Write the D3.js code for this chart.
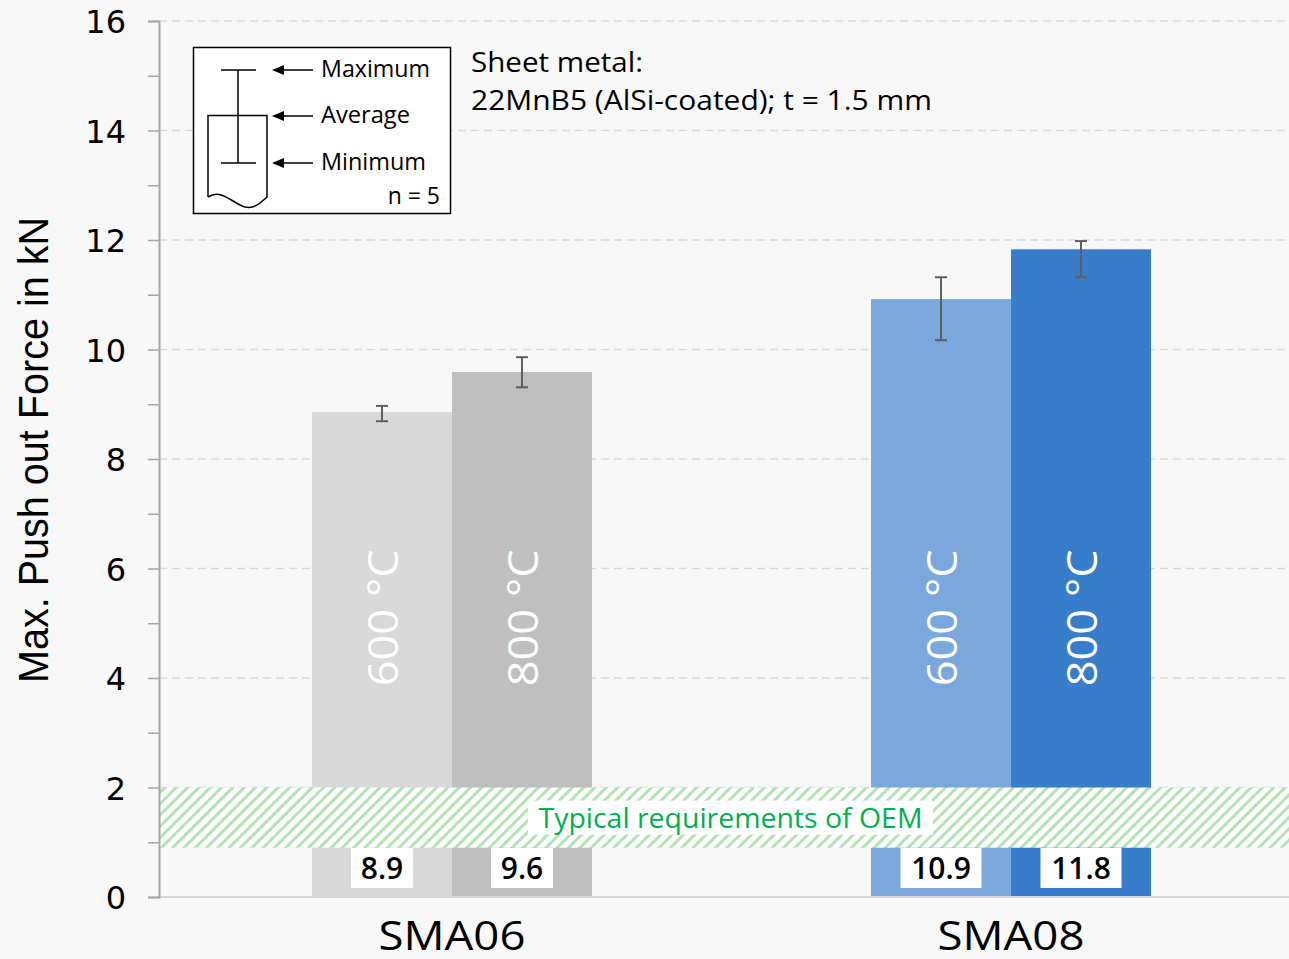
<!DOCTYPE html>
<html>
<head>
<meta charset="UTF-8">
<title>Push out force</title>
<script src="https://d3js.org/d3.v7.min.js"></script>
<style>
  body { margin: 0; background: #f8f8f8; }
  svg { display: block; }
  text { font-family: "DejaVu Sans", sans-serif; }
</style>
</head>
<body>
<svg id="chart"></svg>
<script>
// values
let categories = ["SMA06", "SMA08"];
let temps = ["600 °C", "800 °C"];
let avg600 = [8.86, 10.92];
let avg800 = [9.59, 11.83];
let min600 = [8.69, 10.17];
let max600 = [8.97, 11.32];
let min800 = [9.31, 11.32];
let max800 = [9.86, 11.98];
let label600 = ["8.9", "10.9"];
let label800 = ["9.6", "11.8"];
let yTicks = [0, 2, 4, 6, 8, 10, 12, 14, 16];
let oemBand = [0.9, 2];

let width = 1289, height = 959;
let plotLeft = 159, plotRight = 1289, plotTop = 21, plotBottom = 897;

let svg = d3.select("#chart").attr("width", width).attr("height", height);

// flatten into bars
let bars = [];
categories.forEach((c, i) => {
  bars.push({cat: c, temp: temps[0], avg: avg600[i], min: min600[i], max: max600[i], label: label600[i], idx: i});
  bars.push({cat: c, temp: temps[1], avg: avg800[i], min: min800[i], max: max800[i], label: label800[i], idx: i});
});
let colors = {
  "SMA06": {"600 °C": "#d9d9d9", "800 °C": "#bfbfbf"},
  "SMA08": {"600 °C": "#7aa8dc", "800 °C": "#377dc9"}
};

let y = d3.scaleLinear().domain([0, 16]).range([plotBottom, plotTop]);
let x = d3.scaleBand().domain(categories).range([172.5, 1290.5]).paddingInner(0).paddingOuter(0);
let xs = d3.scaleBand().domain(temps).range([-140, 140]);

// background
svg.append("rect").attr("width", width).attr("height", height).attr("fill", "#f8f8f8");

// hatch pattern
let defs = svg.append("defs");
let pat = defs.append("pattern").attr("id", "hatch").attr("patternUnits", "userSpaceOnUse")
  .attr("width", 8).attr("height", 8).attr("patternTransform", "rotate(45)");
pat.append("rect").attr("width", 8).attr("height", 8).attr("fill", "#ffffff");
pat.append("rect").attr("width", 3).attr("height", 8).attr("fill", "#b3e2b3");

// gridlines
svg.append("g").selectAll("line").data(yTicks.filter(d => d > 0)).join("line")
  .attr("x1", plotLeft).attr("x2", plotRight)
  .attr("y1", d => y(d)).attr("y2", d => y(d))
  .attr("stroke", "#d9d9d9").attr("stroke-width", 1.5).attr("stroke-dasharray", "8,5");

// bars
let bg = svg.append("g");
bg.selectAll("rect").data(bars).join("rect")
  .attr("x", d => x(d.cat) + x.bandwidth() / 2 + xs(d.temp))
  .attr("width", xs.bandwidth())
  .attr("y", d => y(d.avg))
  .attr("height", d => y(0) - y(d.avg))
  .attr("fill", d => colors[d.cat][d.temp]);

// error bars
let eg = svg.append("g").attr("stroke", "#5f5f5f").attr("stroke-width", 2);
bars.forEach(d => {
  let cx = x(d.cat) + x.bandwidth() / 2 + xs(d.temp) + xs.bandwidth() / 2;
  eg.append("line").attr("x1", cx).attr("x2", cx).attr("y1", y(d.max)).attr("y2", y(d.min));
  eg.append("line").attr("x1", cx - 6).attr("x2", cx + 6).attr("y1", y(d.max)).attr("y2", y(d.max));
  eg.append("line").attr("x1", cx - 6).attr("x2", cx + 6).attr("y1", y(d.min)).attr("y2", y(d.min));
});

// rotated temperature labels
svg.append("g").selectAll("text").data(bars).join("text")
  .attr("transform", d => {
    let cx = x(d.cat) + x.bandwidth() / 2 + xs(d.temp) + xs.bandwidth() / 2;
    return "translate(" + (cx + 16) + "," + y(5.1) + ") rotate(-90)";
  })
  .attr("text-anchor", "middle")
  .attr("fill", "#ffffff")
  .style("font-family", "'Open Sans', sans-serif")
  .style("font-size", "42px")
  .attr("textLength", 137).attr("lengthAdjust", "spacingAndGlyphs")
  .text(d => d.temp);

// OEM band
svg.append("rect")
  .attr("x", plotLeft).attr("width", plotRight - plotLeft)
  .attr("y", y(oemBand[1])).attr("height", y(oemBand[0]) - y(oemBand[1]))
  .attr("fill", "url(#hatch)");
let oemY = y((oemBand[0] + oemBand[1]) / 2);
svg.append("rect").attr("x", 528).attr("y", oemY - 17).attr("width", 405).attr("height", 34).attr("fill", "#ffffff");
svg.append("text").attr("x", 730.5).attr("y", oemY + 10)
  .attr("text-anchor", "middle").attr("fill", "#00b050")
  .style("font-family", "'Open Sans', sans-serif").style("font-size", "27px")
  .attr("textLength", 384).attr("lengthAdjust", "spacingAndGlyphs")
  .text("Typical requirements of OEM");

// value labels in white boxes
let vg = svg.append("g");
bars.forEach(d => {
  let cx = x(d.cat) + x.bandwidth() / 2 + xs(d.temp) + xs.bandwidth() / 2;
  let w = d.label.length > 3 ? 81 : 62;
  vg.append("rect").attr("x", cx - w / 2).attr("y", y(0.53) - 20).attr("width", w).attr("height", 40).attr("fill", "#ffffff");
  vg.append("text").attr("x", cx).attr("y", y(0.53) + 11).attr("text-anchor", "middle")
    .attr("fill", "#000").style("font-size", "30px").style("font-weight", "600")
    .style("font-family", "'Open Sans', sans-serif")
    .text(d.label);
});

// x axis line
svg.append("line").attr("x1", plotLeft).attr("x2", plotRight).attr("y1", plotBottom).attr("y2", plotBottom)
  .attr("stroke", "#d4d4d4").attr("stroke-width", 2);

// y axis
let yAxis = d3.axisLeft(y).tickValues(yTicks).tickSize(11).tickPadding(22).tickFormat(d3.format("d"));
let ya = svg.append("g").attr("transform", "translate(" + plotLeft + ",0)").call(yAxis);
ya.select(".domain").attr("stroke", "#a6a6a6").attr("stroke-width", 2);
ya.selectAll(".tick line").attr("stroke", "#a6a6a6").attr("stroke-width", 1.5);
ya.selectAll(".tick text").attr("fill", "#000").style("font-size", "32px")
  .style("font-family", "'DejaVu Sans', sans-serif").attr("dy", "0.36em");
let yMinor = d3.axisLeft(y).tickValues(d3.range(1, 16, 2)).tickSize(11).tickFormat("");
let ym = svg.append("g").attr("transform", "translate(" + plotLeft + ",0)").call(yMinor);
ym.select(".domain").remove();
ym.selectAll(".tick line").attr("stroke", "#a6a6a6").attr("stroke-width", 1.5);

// y title
svg.append("text").attr("transform", "translate(48," + 450 + ") rotate(-90)")
  .attr("text-anchor", "middle").attr("fill", "#000")
  .style("font-family", "'Liberation Sans Narrow', 'Liberation Sans', sans-serif")
  .style("font-size", "42px")
  .attr("textLength", 466).attr("lengthAdjust", "spacingAndGlyphs")
  .text("Max. Push out Force in kN");

// category labels
svg.append("g").selectAll("text").data(categories).join("text")
  .attr("x", d => x(d) + x.bandwidth() / 2)
  .attr("y", 950)
  .attr("text-anchor", "middle").attr("fill", "#000")
  .style("font-family", "'Open Sans', sans-serif").style("font-size", "40px")
  .attr("textLength", 147).attr("lengthAdjust", "spacingAndGlyphs")
  .text(d => d);

// legend box
let lg = svg.append("g");
lg.append("rect").attr("x", 193.5).attr("y", 47.5).attr("width", 257).attr("height", 166)
  .attr("fill", "#ffffff").attr("stroke", "#000").attr("stroke-width", 1.5);
lg.append("path").attr("d", "M208,197 L208,115.5 L267,115.5 L267,197 C260,203 255,209 245,207 C233,204 222,188 208,197")
  .attr("fill", "none").attr("stroke", "#000").attr("stroke-width", 1.5);
lg.append("line").attr("x1", 238).attr("x2", 238).attr("y1", 70).attr("y2", 163).attr("stroke", "#000").attr("stroke-width", 1.5);
lg.append("line").attr("x1", 221).attr("x2", 256).attr("y1", 70).attr("y2", 70).attr("stroke", "#000").attr("stroke-width", 1.5);
lg.append("line").attr("x1", 221).attr("x2", 256).attr("y1", 163).attr("y2", 163).attr("stroke", "#000").attr("stroke-width", 1.5);
let legItems = [["Maximum", 70, 109], ["Average", 116, 89], ["Minimum", 163, 105]];
legItems.forEach(([t, ly, tl]) => {
  lg.append("line").attr("x1", 281).attr("x2", 313).attr("y1", ly).attr("y2", ly).attr("stroke", "#000").attr("stroke-width", 1.5);
  lg.append("path").attr("d", "M272," + ly + " L284," + (ly - 5) + " L284," + (ly + 5) + " Z").attr("fill", "#000");
  lg.append("text").attr("x", 321).attr("y", ly + 7).attr("fill", "#000")
    .style("font-family", "'Open Sans', sans-serif").style("font-size", "23px")
    .attr("textLength", tl).attr("lengthAdjust", "spacingAndGlyphs").text(t);
});
lg.append("text").attr("x", 440).attr("y", 204).attr("text-anchor", "end").attr("fill", "#000")
  .style("font-family", "'Open Sans', sans-serif").style("font-size", "23px").text("n = 5");

// sheet metal note
svg.append("text").attr("x", 471).attr("y", 72).attr("fill", "#000")
  .style("font-family", "'Open Sans', sans-serif").style("font-size", "27px")
  .attr("textLength", 172).attr("lengthAdjust", "spacingAndGlyphs").text("Sheet metal:");
svg.append("text").attr("x", 471).attr("y", 110).attr("fill", "#000")
  .style("font-family", "'Open Sans', sans-serif").style("font-size", "27px")
  .attr("textLength", 461).attr("lengthAdjust", "spacingAndGlyphs")
  .text("22MnB5 (AlSi-coated); t = 1.5 mm");
</script>
</body>
</html>
